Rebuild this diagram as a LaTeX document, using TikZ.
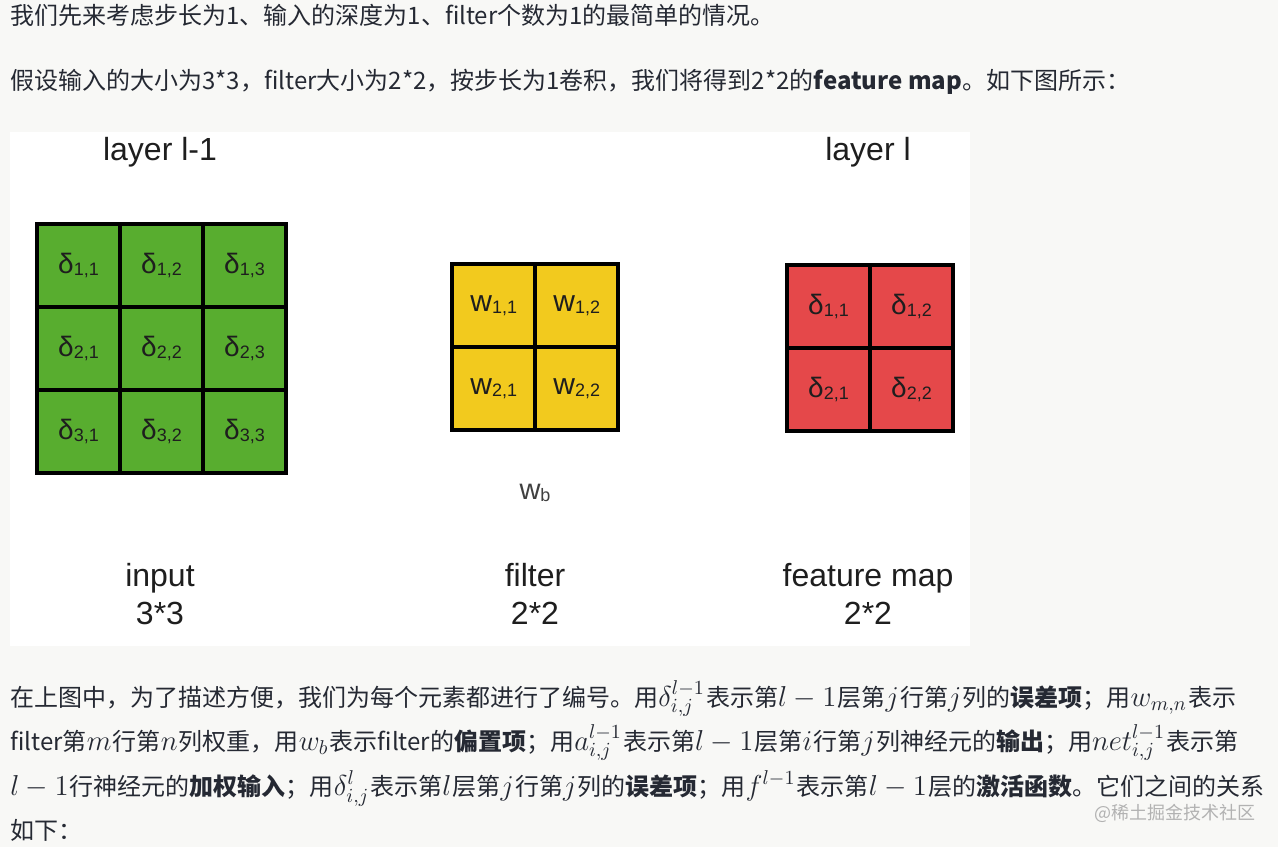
\documentclass[tikz,border=0pt]{standalone}
\usepackage{fontspec}
\setmainfont{Noto Sans CJK SC}
\newfontfamily\figfont{Liberation Sans}
\usepackage{tikz}
\usetikzlibrary{positioning}

\definecolor{pagebg}{HTML}{F8F8F6}
\definecolor{bodytext}{HTML}{252933}
\definecolor{cellgreen}{HTML}{58AD2F}
\definecolor{cellyellow}{HTML}{F2CA1E}
\definecolor{cellred}{HTML}{E5484A}
\definecolor{figtext}{HTML}{1E1E1E}

\newcommand{\cellsym}[3][14]{{\fontsize{#1}{#1}\selectfont #2}\raisebox{-1.3pt}{\fontsize{9}{9}\selectfont #3}}
\newcommand{\mth}[1]{{\fontsize{14.5}{14.5}\selectfont$#1$}\kern0.6pt}

\begin{document}
\begin{tikzpicture}[x=0.5pt, y=-0.5pt,
    line/.style={anchor=base west, inner sep=0pt, text=bodytext, font=\fontsize{12}{22}\selectfont},
    cell/.style={rectangle, minimum size=41.5pt, inner sep=0pt, outer sep=0pt, draw=black, line width=2pt, text=figtext, font=\figfont},
    greencell/.style={cell, fill=cellgreen},
    yellowcell/.style={cell, fill=cellyellow},
    redcell/.style={cell, fill=cellred},
    caption/.style={text=figtext, inner sep=0pt, text height=11.5pt, text depth=3.5pt, font=\figfont\fontsize{16}{16}\selectfont}]
    \useasboundingbox[fill=pagebg] (0,0) rectangle (1278,847);

    % text above the figure
    \node [line] (intro1) at (10,24) {我们先来考虑步长为1、输入的深度为1、filter个数为1的最简单的情况。};
    \node [line] (intro2) at (10,89) {假设输入的大小为3*3，filter大小为2*2，按步长为1卷积，我们将得到2*2的\textbf{feature map}。如下图所示：};

    % figure
    \fill [white] (10,132) rectangle (970,646);
    \node [caption] (toplabel1) at (160,152) {layer l-1};
    \node [caption] (toplabel2) at (868,152) {layer l};

    \node [greencell] (in11) at (78.5,265.5) {\cellsym{δ}{1,1}};
    \node [greencell, right=0pt of in11] (in12) {\cellsym{δ}{1,2}};
    \node [greencell, right=0pt of in12] (in13) {\cellsym{δ}{1,3}};
    \node [greencell, below=0pt of in11] (in21) {\cellsym{δ}{2,1}};
    \node [greencell, right=0pt of in21] (in22) {\cellsym{δ}{2,2}};
    \node [greencell, right=0pt of in22] (in23) {\cellsym{δ}{2,3}};
    \node [greencell, below=0pt of in21] (in31) {\cellsym{δ}{3,1}};
    \node [greencell, right=0pt of in31] (in32) {\cellsym{δ}{3,2}};
    \node [greencell, right=0pt of in32] (in33) {\cellsym{δ}{3,3}};

    \node [yellowcell] (w11) at (493.75,305.75) {\cellsym[15]{w}{1,1}};
    \node [yellowcell, right=0pt of w11] (w12) {\cellsym[15]{w}{1,2}};
    \node [yellowcell, below=0pt of w11] (w21) {\cellsym[15]{w}{2,1}};
    \node [yellowcell, right=0pt of w21] (w22) {\cellsym[15]{w}{2,2}};
    \node [text=figtext!85, inner sep=0pt, font=\figfont] (bias) at (535,493) {\cellsym[14.5]{w}{b}};

    \node [redcell] (out11) at (828.5,306.5) {\cellsym{δ}{1,1}};
    \node [redcell, right=0pt of out11] (out12) {\cellsym{δ}{1,2}};
    \node [redcell, below=0pt of out11] (out21) {\cellsym{δ}{2,1}};
    \node [redcell, right=0pt of out21] (out22) {\cellsym{δ}{2,2}};

    \node [caption] (name1) at (160,578) {input};
    \node [caption] (size1) at (160,616) {3*3};
    \node [caption] (name2) at (535,578) {filter};
    \node [caption] (size2) at (535,616) {2*2};
    \node [caption] (name3) at (868,578) {feature map};
    \node [caption] (size3) at (868,616) {2*2};

    % text below the figure
    \node [line] (para1) at (10,706) {在上图中，为了描述方便，我们为每个元素都进行了编号。用\mth{\delta^{l-1}_{i,j}}表示第\mth{l-1}层第\mth{j}行第\mth{j}列的\textbf{误差项}；用\mth{w_{m,n}}表示};
    \node [line] (para2) at (10,750) {filter第\mth{m}行第\mth{n}列权重，用\mth{w_b}表示filter的\textbf{偏置项}；用\mth{a^{l-1}_{i,j}}表示第\mth{l-1}层第\mth{i}行第\mth{j}列神经元的\textbf{输出}；用\mth{net^{l-1}_{i,j}}表示第};
    \node [line] (para3) at (10,795) {\mth{l-1}行神经元的\textbf{加权输入}；用\mth{\delta^{l}_{i,j}}表示第\mth{l}层第\mth{j}行第\mth{j}列的\textbf{误差项}；用\mth{f^{l-1}}表示第\mth{l-1}层的\textbf{激活函数}。它们之间的关系};
    \node [line] (para4) at (10,839) {如下：};
    \node [text=black!30, inner sep=0pt, font=\fontsize{9}{9}\selectfont] (mark) at (1175,813) {@稀土掘金技术社区};
\end{tikzpicture}
\end{document}
